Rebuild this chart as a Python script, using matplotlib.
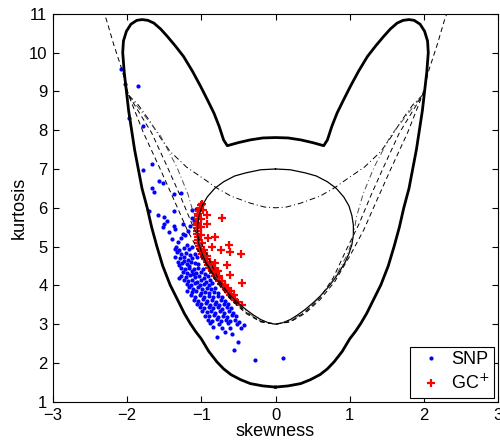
import matplotlib
matplotlib.use("Agg")
import matplotlib.pyplot as plt

plt.rcParams['font.family'] = ['Liberation Sans', 'DejaVu Sans']

#SNP frontier (thick), left half: bottom -> up the left side -> over the lobe -> cusp -> centre
outer_s = [0.0, -0.17, -0.34, -0.47, -0.6, -0.7, -0.79, -0.9, -1.0, -1.08, -1.15, -1.23, -1.3,
           -1.36, -1.42, -1.52, -1.6, -1.67, -1.73, -1.8, -1.85, -1.9, -1.94, -1.98, -2.01,
           -2.04, -2.06, -2.05, -2.01, -1.95, -1.87, -1.8, -1.72, -1.64, -1.55, -1.46, -1.35,
           -1.24, -1.12, -1.01, -0.92, -0.83, -0.76, -0.7, -0.65, -0.5, -0.34, -0.17, 0.0]
outer_k = [1.38, 1.41, 1.47, 1.57, 1.7, 1.85, 2.03, 2.3, 2.62, 2.82, 3.02, 3.28, 3.55,
           3.78, 4.01, 4.5, 5.01, 5.5, 6.0, 6.5, 7.0, 7.5, 8.0, 8.5, 9.0,
           9.5, 10.0, 10.3, 10.55, 10.73, 10.83, 10.85, 10.83, 10.76, 10.61, 10.42, 10.17,
           9.9, 9.52, 9.13, 8.79, 8.44, 8.1, 7.75, 7.6, 7.68, 7.75, 7.8, 7.81]

#Gram-Charlier positivity region (thin), left half: top -> bottom
gc_s = [0.0, -0.2, -0.4, -0.55, -0.7, -0.82, -0.92, -0.99, -1.03, -1.05, -1.05, -1.03,
        -0.99, -0.94, -0.87, -0.79, -0.7, -0.6, -0.5, -0.4, -0.3, -0.2, -0.1, 0.0]
gc_k = [7.0, 6.98, 6.9, 6.82, 6.67, 6.5, 6.28, 6.05, 5.8, 5.55, 5.3, 5.05,
        4.82, 4.6, 4.38, 4.15, 3.93, 3.72, 3.54, 3.38, 3.24, 3.12, 3.04, 3.0]

#dash-dot upper branch, left half
dd_up_s = [-1.98, -1.85, -1.7, -1.55, -1.42, -1.2, -0.97, -0.8, -0.6, -0.34, -0.15, 0.0]
dd_up_k = [8.9, 8.65, 8.25, 7.8, 7.45, 7.05, 6.75, 6.52, 6.3, 6.12, 6.02, 6.0]

#dash-dot lower branch, left half
dd_lo_s = [-1.98, -1.55, -1.33, -1.18, -1.09, -1.05, -0.97, -0.8, -0.6, -0.4, -0.2, 0.0]
dd_lo_k = [8.9, 7.85, 7.05, 6.35, 5.75, 5.25, 4.8, 4.2, 3.7, 3.33, 3.08, 3.0]

#dashed curves, left half
d1_s = [-2.33, -2.28, -2.18, -2.07, -1.98, -1.78, -1.55, -1.37, -1.19, -1.0, -0.8, -0.6, -0.4, -0.2, 0.0]
d1_k = [11.1, 10.85, 10.2, 9.56, 8.9, 7.93, 6.98, 6.21, 5.43, 4.75, 4.1, 3.63, 3.28, 3.06, 3.0]
d2_s = [-1.98, -1.67, -1.46, -1.28, -1.13, -0.95, -0.78, -0.6, -0.4, -0.2, 0.0]
d2_k = [8.9, 7.93, 7.06, 6.29, 5.6, 4.9, 4.2, 3.68, 3.31, 3.07, 3.0]

#SNP estimates
snp_pts = [
    (-2.08, 9.57), (-2.03, 9.20), (-1.86, 9.14), (-1.97, 8.31), (-1.79, 8.11), (-1.78, 6.98),
    (-1.67, 7.13), (-1.66, 6.51), (-1.64, 6.40), (-1.57, 6.68), (-1.52, 6.64), (-1.37, 6.36),
    (-1.27, 6.38), (-1.70, 5.92), (-1.59, 5.82), (-1.51, 5.76), (-1.37, 5.93), (-1.13, 5.95),
    (-1.07, 5.97), (-1.51, 5.57), (-1.25, 5.57), (-1.22, 5.31), (-1.52, 5.50), (-1.37, 5.54),
    (-1.35, 5.45), (-1.25, 5.33), (-1.13, 5.73), (-1.15, 5.52), (-1.20, 5.05), (-1.31, 5.13),
    (-1.34, 5.00), (-1.44, 5.38), (-1.40, 5.20), (-1.28, 5.22), (-1.18, 5.40), (-1.10, 5.65),
    (-1.46, 5.65),
    (-1.36, 4.95), (-1.30, 4.90), (-1.24, 4.97), (-1.17, 4.93), (-1.12, 4.98), (-1.33, 4.85),
    (-1.27, 4.80), (-1.21, 4.84), (-1.15, 4.78), (-1.09, 4.82), (-1.35, 4.72), (-1.29, 4.70),
    (-1.23, 4.74), (-1.18, 4.66), (-1.12, 4.70), (-1.06, 4.72), (-1.32, 4.60), (-1.26, 4.58),
    (-1.20, 4.55), (-1.14, 4.60), (-1.08, 4.57), (-1.30, 4.52), (-1.17, 4.50), (-1.04, 4.55),
    (-1.23, 4.64),
    (-1.28, 4.45), (-1.22, 4.42), (-1.16, 4.46), (-1.10, 4.43), (-1.04, 4.45), (-0.98, 4.41),
    (-1.25, 4.35), (-1.19, 4.33), (-1.13, 4.37), (-1.07, 4.32), (-1.01, 4.35), (-0.95, 4.30),
    (-1.27, 4.25), (-1.21, 4.22), (-1.15, 4.26), (-1.09, 4.21), (-1.03, 4.24), (-0.97, 4.20),
    (-0.91, 4.24), (-1.24, 4.13), (-1.18, 4.11), (-1.12, 4.15), (-1.06, 4.10), (-1.00, 4.13),
    (-0.94, 4.09), (-0.88, 4.13), (-1.20, 4.03), (-1.14, 4.01), (-1.08, 4.05), (-1.02, 4.00),
    (-0.96, 4.03), (-0.90, 4.00), (-0.85, 4.05), (-1.30, 4.18), (-1.11, 4.29),
    (-1.17, 3.95), (-1.11, 3.92), (-1.05, 3.95), (-0.99, 3.91), (-0.93, 3.94), (-0.87, 3.90),
    (-0.81, 3.94), (-1.19, 3.85), (-1.13, 3.82), (-1.07, 3.86), (-1.01, 3.81), (-0.95, 3.84),
    (-0.89, 3.80), (-0.83, 3.84), (-0.77, 3.80), (-1.14, 3.74), (-1.08, 3.71), (-1.02, 3.75),
    (-0.96, 3.70), (-0.90, 3.73), (-0.84, 3.69), (-0.78, 3.73), (-0.72, 3.70), (-1.10, 3.63),
    (-1.04, 3.60), (-0.98, 3.64), (-0.92, 3.59), (-0.86, 3.62), (-0.80, 3.58), (-0.74, 3.62),
    (-0.68, 3.59), (-1.06, 3.53), (-1.00, 3.51), (-0.94, 3.54), (-0.88, 3.50), (-0.82, 3.53),
    (-0.76, 3.50), (-0.70, 3.53), (-0.64, 3.51),
    (-1.02, 3.45), (-0.96, 3.42), (-0.90, 3.45), (-0.84, 3.41), (-0.78, 3.44), (-0.72, 3.40),
    (-0.66, 3.44), (-0.60, 3.41), (-0.99, 3.33), (-0.93, 3.31), (-0.87, 3.35), (-0.81, 3.30),
    (-0.75, 3.33), (-0.69, 3.30), (-0.63, 3.34), (-0.57, 3.29), (-0.95, 3.22), (-0.89, 3.20),
    (-0.83, 3.24), (-0.77, 3.19), (-0.71, 3.22), (-0.65, 3.18), (-0.59, 3.23), (-0.53, 3.20),
    (-0.91, 3.11), (-0.85, 3.09), (-0.79, 3.13), (-0.73, 3.08), (-0.67, 3.12), (-0.61, 3.08),
    (-0.55, 3.11), (-0.49, 3.06), (-0.88, 3.02), (-0.76, 3.01), (-0.64, 3.02), (-0.52, 3.00),
    (-0.84, 2.92), (-0.72, 2.90), (-0.61, 2.89), (-0.47, 2.91), (-0.79, 2.68), (-0.68, 2.80),
    (-0.50, 2.55), (-0.56, 2.33), (-0.58, 2.75), (-0.43, 2.97), (-0.28, 2.07), (0.10, 2.12),
]

#GC+ estimates
gcp_pts = [
    (-1.00, 6.08), (-1.02, 6.00), (-1.03, 5.92), (-1.04, 5.85), (-1.05, 5.78), (-1.05, 5.70),
    (-1.06, 5.62), (-1.06, 5.55), (-1.06, 5.47), (-1.06, 5.40), (-1.06, 5.32), (-1.05, 5.25),
    (-1.05, 5.17), (-1.04, 5.10), (-1.03, 5.02), (-1.02, 4.95), (-1.00, 4.88), (-0.99, 4.81),
    (-0.97, 4.74), (-0.95, 4.67), (-0.93, 4.60), (-0.91, 4.53), (-0.89, 4.46), (-0.86, 4.39),
    (-0.84, 4.32), (-0.81, 4.25), (-0.79, 4.18), (-0.76, 4.11), (-0.73, 4.04), (-0.70, 3.97),
    (-0.67, 3.90), (-0.64, 3.83), (-0.61, 3.76), (-0.58, 3.70), (-0.55, 3.63), (-0.52, 3.57),
    (-0.98, 5.95), (-1.00, 5.70), (-1.01, 5.50), (-1.00, 5.30), (-0.99, 5.10), (-0.96, 4.90),
    (-0.92, 4.75), (-0.88, 4.60), (-0.84, 4.45), (-0.80, 4.35), (-0.76, 4.25), (-0.72, 4.12),
    (-0.68, 4.02), (-0.64, 3.93), (-0.60, 3.85), (-0.56, 3.75),
    (-0.99, 6.10), (-0.93, 5.82), (-0.72, 5.73), (-0.93, 5.59), (-0.91, 5.22), (-0.81, 5.26),
    (-0.86, 5.00), (-0.74, 4.92), (-0.63, 5.05), (-0.62, 4.85), (-0.47, 4.80), (-0.66, 4.53),
    (-0.81, 4.57), (-0.77, 4.36), (-0.61, 4.27), (-0.45, 4.07), (-0.68, 4.02), (-0.45, 3.50),
]


def mirror(s, k):
    # left half -> whole symmetric curve
    return s + [-v for v in s[::-1]][1:], k + k[::-1][1:]


fig = plt.figure(figsize=(5, 4.44), dpi=100)
ax = fig.add_axes([0.106, 0.095, 0.89, 0.874])

ax.plot([p[0] for p in snp_pts], [p[1] for p in snp_pts], '.', color='b', ms=4, label='SNP', zorder=2)
ax.plot([p[0] for p in gcp_pts], [p[1] for p in gcp_pts], '+', color='r', ms=6, mew=1.6,
        label='GC$^{+}$', zorder=3)

s, k = mirror(outer_s, outer_k)
ax.plot(s, k, color='k', lw=2.0, zorder=4)
s, k = mirror(gc_s, gc_k)
ax.plot(s, k, color='k', lw=0.9, zorder=4)
s, k = mirror(dd_up_s, dd_up_k)
ax.plot(s, k, color='k', lw=0.7, ls=(0, (6, 3, 1, 3)), zorder=4)
s, k = mirror(dd_lo_s, dd_lo_k)
ax.plot(s, k, color='0.3', lw=0.7, ls=(0, (6, 3, 1, 3)), zorder=4)
s, k = mirror(d1_s, d1_k)
ax.plot(s, k, color='k', lw=0.7, ls=(0, (5, 3.5)), zorder=4)
s, k = mirror(d2_s, d2_k)
ax.plot(s, k, color='k', lw=0.7, ls=(0, (5, 3.5)), zorder=4)

ax.set_xlim(-3, 3)
ax.set_ylim(1, 11)
ax.set_xticks(range(-3, 4))
ax.set_yticks(range(1, 12))
ax.set_xticklabels(['\u22123', '\u22122', '\u22121', '0', '1', '2', '3'])
ax.tick_params(direction='in', top=True, right=True, length=4, width=0.8, labelsize=12)
ax.tick_params(axis='x', pad=4.5)
ax.tick_params(axis='y', pad=4)
for sp in ax.spines.values():
    sp.set_linewidth(0.8)
ax.set_xlabel('skewness', fontsize=13, labelpad=0)
ax.set_ylabel('kurtosis', fontsize=13, labelpad=1)

leg = ax.legend(loc='lower right', fontsize=13, fancybox=False, edgecolor='k', framealpha=1,
                borderaxespad=0.23, handlelength=1.8, handletextpad=0.2, borderpad=0.25,
                labelspacing=0.3, numpoints=1)
leg.get_frame().set_linewidth(0.8)

fig.savefig('out.png', dpi=100)
